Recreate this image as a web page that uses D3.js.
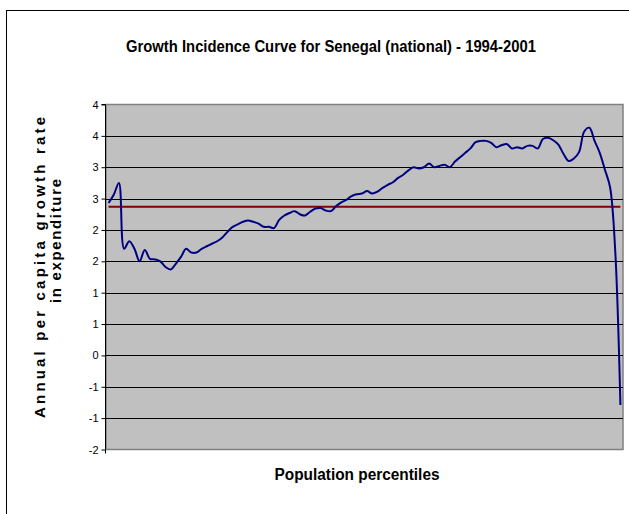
<!DOCTYPE html>
<html>
<head>
<meta charset="utf-8">
<script src="https://cdn.jsdelivr.net/npm/d3@7"></script>
<style>
  html, body { margin: 0; padding: 0; background: #fff; }
  svg { display: block; }
  text { font-family: "Liberation Sans", Arial, sans-serif; }
  .narrow { font-family: "Liberation Sans Narrow", "Arial Narrow", "Liberation Sans", Arial, sans-serif; }
</style>
</head>
<body>
<svg id="chart" width="629" height="514"></svg>
<script>
// Population percentiles 1..100
const percentiles = d3.range(1, 101);

// Annual per capita growth rate in expenditure, by percentile (%)
const growthRates = [
  2.43, 2.56, 2.75, 1.70, 1.82, 1.70, 1.50, 1.68, 1.54, 1.53,
  1.50, 1.41, 1.37, 1.46, 1.57, 1.70, 1.64, 1.64, 1.70, 1.74,
  1.78, 1.82, 1.88, 1.97, 2.05, 2.09, 2.13, 2.15, 2.13, 2.10,
  2.05, 2.05, 2.03, 2.16, 2.23, 2.27, 2.30, 2.25, 2.23, 2.29,
  2.34, 2.35, 2.31, 2.30, 2.38, 2.44, 2.48, 2.54, 2.57, 2.58,
  2.62, 2.58, 2.61, 2.67, 2.72, 2.76, 2.83, 2.88, 2.95, 3.00,
  2.98, 3.00, 3.06, 3.00, 3.02, 3.04, 3.00, 3.09, 3.16, 3.23,
  3.30, 3.40, 3.42, 3.42, 3.39, 3.32, 3.35, 3.37, 3.30, 3.32,
  3.30, 3.34, 3.34, 3.30, 3.45, 3.47, 3.43, 3.36, 3.21, 3.10,
  3.14, 3.24, 3.57, 3.63, 3.42, 3.23, 2.96, 2.68, 1.66, -0.79
];

// Growth rate in mean expenditure (horizontal reference line)
const meanGrowth = [2.37];

// Value-axis ticks
const yTicks = [-1.5, -1, -0.5, 0, 0.5, 1, 1.5, 2, 2.5, 3, 3.5, 4];

const titleText = "Growth Incidence Curve for Senegal (national) - 1994-2001";
const xTitle = "Population percentiles";
const yTitleLines = ["Annual per capita growth rate", "in expenditure"];

const svg = d3.select("#chart");

const plot = { left: 106, right: 623, top: 104.5, bottom: 449.5 };

const x = d3.scalePoint()
  .domain(percentiles)
  .range([plot.left, plot.right])
  .padding(0.5);

const y = d3.scaleLinear()
  .domain([-1.5, 4])
  .range([plot.bottom, plot.top]);

// Outer chart frame
svg.append("rect")
  .attr("x", 6.5).attr("y", 10.5)
  .attr("width", 640).attr("height", 540)
  .attr("fill", "#fff")
  .attr("stroke", "#000")
  .attr("stroke-width", 1);

// Plot area
svg.append("rect")
  .attr("x", plot.left).attr("y", plot.top)
  .attr("width", plot.right - plot.left)
  .attr("height", plot.bottom - plot.top)
  .attr("fill", "#c0c0c0")
  .attr("stroke", "#808080")
  .attr("stroke-width", 1.5);

// Horizontal gridlines
svg.append("g")
  .selectAll("line")
  .data(yTicks.filter(d => d > -1.5 && d < 4))
  .join("line")
  .attr("x1", plot.left).attr("x2", plot.right)
  .attr("y1", d => Math.round(y(d)) + 0.5)
  .attr("y2", d => Math.round(y(d)) + 0.5)
  .attr("stroke", "#000")
  .attr("stroke-width", 1);

// Excel-style rounding of tick labels (no decimals, half away from zero)
const excelRound = v => {
  const r = Math.sign(v) * Math.round(Math.abs(v));
  return r === 0 ? "0" : String(r);
};

const yAxis = d3.axisLeft(y)
  .tickValues(yTicks)
  .tickSize(4)
  .tickPadding(3)
  .tickFormat(excelRound);

const gy = svg.append("g")
  .attr("transform", `translate(${plot.left - 0.5},0)`)
  .call(yAxis);
gy.select(".domain").attr("stroke", "#000").attr("d", `M-4,${plot.top}H0V${plot.bottom}`);
gy.selectAll(".tick line").attr("stroke", "#000");
gy.selectAll(".tick text")
  .attr("class", "narrow")
  .attr("font-size", 11)
  .attr("fill", "#000");

// Small corner tick at the category axis origin
svg.append("line")
  .attr("x1", plot.left - 0.5).attr("x2", plot.left - 0.5)
  .attr("y1", plot.bottom).attr("y2", plot.bottom + 4)
  .attr("stroke", "#000");

// Mean growth line
svg.append("line")
  .datum(meanGrowth[0])
  .attr("x1", x(percentiles[0]))
  .attr("x2", x(percentiles[percentiles.length - 1]))
  .attr("y1", d => y(d))
  .attr("y2", d => y(d))
  .attr("stroke", "#800000")
  .attr("stroke-width", 2);

// Growth incidence curve
const line = d3.line()
  .x((d, i) => x(percentiles[i]))
  .y(d => y(d))
  .curve(d3.curveCatmullRom.alpha(0.5));

svg.append("path")
  .datum(growthRates)
  .attr("d", line)
  .attr("fill", "none")
  .attr("stroke", "#000080")
  .attr("stroke-width", 2)
  .attr("stroke-linejoin", "round");

// Chart title
svg.append("text")
  .attr("class", "narrow")
  .attr("x", 331).attr("y", 52)
  .attr("text-anchor", "middle")
  .attr("font-size", 16)
  .attr("font-weight", "bold")
  .attr("textLength", 410)
  .attr("lengthAdjust", "spacingAndGlyphs")
  .text(titleText);

// Category axis title
svg.append("text")
  .attr("class", "narrow")
  .attr("x", 357).attr("y", 480)
  .attr("text-anchor", "middle")
  .attr("font-size", 16)
  .attr("font-weight", "bold")
  .attr("textLength", 165)
  .attr("lengthAdjust", "spacingAndGlyphs")
  .text(xTitle);

// Value axis title, two rotated lines with spread letters
const yTitlePos = [
  { cx: 45, cy: 267.5, len: 301 },
  { cx: 61, cy: 241, len: 124 }
];
yTitleLines.forEach((t, i) => {
  const p = yTitlePos[i];
  svg.append("text")
    .attr("class", "narrow")
    .attr("transform", `translate(${p.cx},${p.cy}) rotate(-90)`)
    .attr("text-anchor", "middle")
    .attr("font-size", 15)
    .attr("font-weight", "bold")
    .attr("textLength", p.len)
    .attr("lengthAdjust", "spacing")
    .text(t);
});
</script>
</body>
</html>
